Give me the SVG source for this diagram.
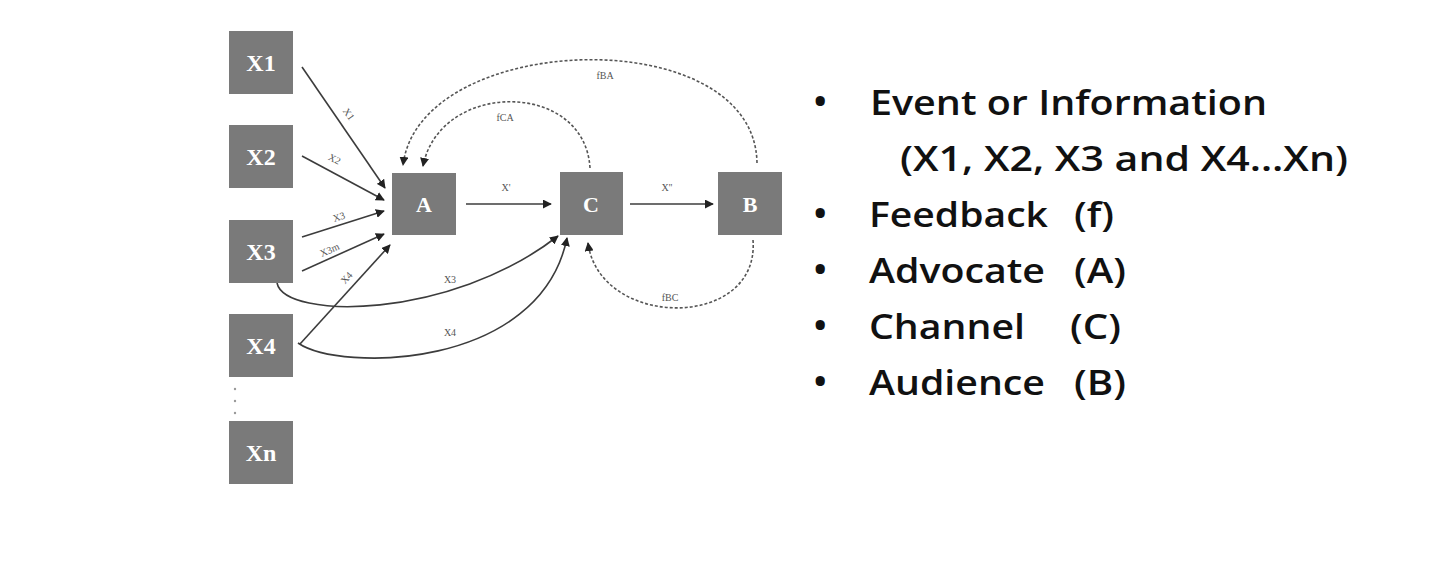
<svg xmlns="http://www.w3.org/2000/svg" width="1440" height="570" viewBox="0 0 1440 570">
<defs>
<style>
.node{fill:#7a7a7a;}
.nt{font-family:"Liberation Serif",serif;font-weight:bold;fill:#ffffff;text-anchor:middle;}
.ln{fill:none;stroke:#3c3c3c;stroke-width:1.6;}
.dl{fill:none;stroke:#555555;stroke-width:1.6;stroke-dasharray:3 2;}
.lb{font-family:"Liberation Serif",serif;font-size:10px;fill:#555555;text-anchor:middle;}
.bt{font-family:"Open Sans",sans-serif;font-weight:600;font-size:34px;fill:#111111;}
.bu{font-family:"Open Sans",sans-serif;font-weight:700;font-size:33px;fill:#111111;}
</style>
<marker id="ah2" viewBox="0 0 10 10" refX="9" refY="5" markerWidth="9" markerHeight="9" markerUnits="userSpaceOnUse" orient="auto">
<path d="M0,0 L10,5 L0,10 z" fill="#222222"/>
</marker>
</defs>
<rect width="1440" height="570" fill="#ffffff"/>

<g id="connectors">
<path class="ln" d="M302,67 L385,188" marker-end="url(#ah2)"/>
<path class="ln" d="M302,156 L384,200" marker-end="url(#ah2)"/>
<path class="ln" d="M302,237 L384,211" marker-end="url(#ah2)"/>
<path class="ln" d="M302,271 L384,234" marker-end="url(#ah2)"/>
<path class="ln" d="M300,344 L390,245" marker-end="url(#ah2)"/>
<path class="ln" d="M277,283 C285,320 450,320 558,236" marker-end="url(#ah2)"/>
<path class="ln" d="M298,343 C340,372 540,370 567,238" marker-end="url(#ah2)"/>
<path class="ln" d="M466,204 L551,204" marker-end="url(#ah2)"/>
<path class="ln" d="M630,204 L713,204" marker-end="url(#ah2)"/>
<path class="dl" d="M590,168 C585,80 440,80 423,166" marker-end="url(#ah2)"/>
<path class="dl" d="M757,163 C755,20 420,30 403,165" marker-end="url(#ah2)"/>
<path class="dl" d="M753,240 C760,330 600,330 588,243" marker-end="url(#ah2)"/>
<text class="lb" transform="translate(346,116) rotate(55)">X1</text>
<text class="lb" transform="translate(333,162) rotate(28)">X2</text>
<text class="lb" transform="translate(340,220) rotate(-18)">X3</text>
<text class="lb" transform="translate(331,253) rotate(-24)">X3m</text>
<text class="lb" transform="translate(349,280) rotate(-48)">X4</text>
<text class="lb" x="450" y="283">X3</text>
<text class="lb" x="450" y="336">X4</text>
<text class="lb" x="506" y="191">X'</text>
<text class="lb" x="667" y="191">X''</text>
<text class="lb" x="505" y="121">fCA</text>
<text class="lb" x="605" y="79">fBA</text>
<text class="lb" x="670" y="301">fBC</text>
</g>

<g id="node-x1"><rect class="node" x="229" y="31" width="64" height="63"/><text class="nt" x="261" y="71" font-size="24">X1</text></g>
<g id="node-x2"><rect class="node" x="229" y="125" width="64" height="63"/><text class="nt" x="261" y="165" font-size="24">X2</text></g>
<g id="node-x3"><rect class="node" x="229" y="220" width="64" height="63"/><text class="nt" x="261" y="260" font-size="24">X3</text></g>
<g id="node-x4"><rect class="node" x="229" y="314" width="64" height="63"/><text class="nt" x="261" y="354" font-size="24">X4</text></g>
<g id="dots"><circle cx="235" cy="389" r="1.2" fill="#999999"/><circle cx="235" cy="401" r="1.2" fill="#999999"/><circle cx="235" cy="413" r="1.2" fill="#999999"/></g>
<g id="node-xn"><rect class="node" x="229" y="421" width="64" height="63"/><text class="nt" x="261" y="461" font-size="24">Xn</text></g>
<g id="node-a"><rect class="node" x="392" y="173" width="64" height="62"/><text class="nt" x="424" y="212" font-size="22">A</text></g>
<g id="node-c"><rect class="node" x="560" y="172" width="63" height="63"/><text class="nt" x="591" y="212" font-size="22">C</text></g>
<g id="node-b"><rect class="node" x="718" y="172" width="64" height="63"/><text class="nt" x="750" y="212" font-size="22">B</text></g>

<g id="legend">
<text class="bu" x="814" y="113">•</text>
<text class="bt" x="870" y="115" textLength="397" lengthAdjust="spacingAndGlyphs">Event or Information</text>
<text class="bt" x="900" y="171" textLength="448" lengthAdjust="spacingAndGlyphs">(X1, X2, X3 and X4…Xn)</text>
<text class="bu" x="814" y="225">•</text>
<text class="bt" x="869" y="227" textLength="179" lengthAdjust="spacingAndGlyphs">Feedback</text>
<text class="bt" x="1074" y="227" textLength="40" lengthAdjust="spacingAndGlyphs">(f)</text>
<text class="bu" x="814" y="281">•</text>
<text class="bt" x="869" y="283" textLength="176" lengthAdjust="spacingAndGlyphs">Advocate</text>
<text class="bt" x="1074" y="283" textLength="52" lengthAdjust="spacingAndGlyphs">(A)</text>
<text class="bu" x="814" y="337">•</text>
<text class="bt" x="869" y="339" textLength="156" lengthAdjust="spacingAndGlyphs">Channel</text>
<text class="bt" x="1070" y="339" textLength="51" lengthAdjust="spacingAndGlyphs">(C)</text>
<text class="bu" x="814" y="393">•</text>
<text class="bt" x="869" y="395" textLength="176" lengthAdjust="spacingAndGlyphs">Audience</text>
<text class="bt" x="1074" y="395" textLength="52" lengthAdjust="spacingAndGlyphs">(B)</text>
</g>
</svg>
